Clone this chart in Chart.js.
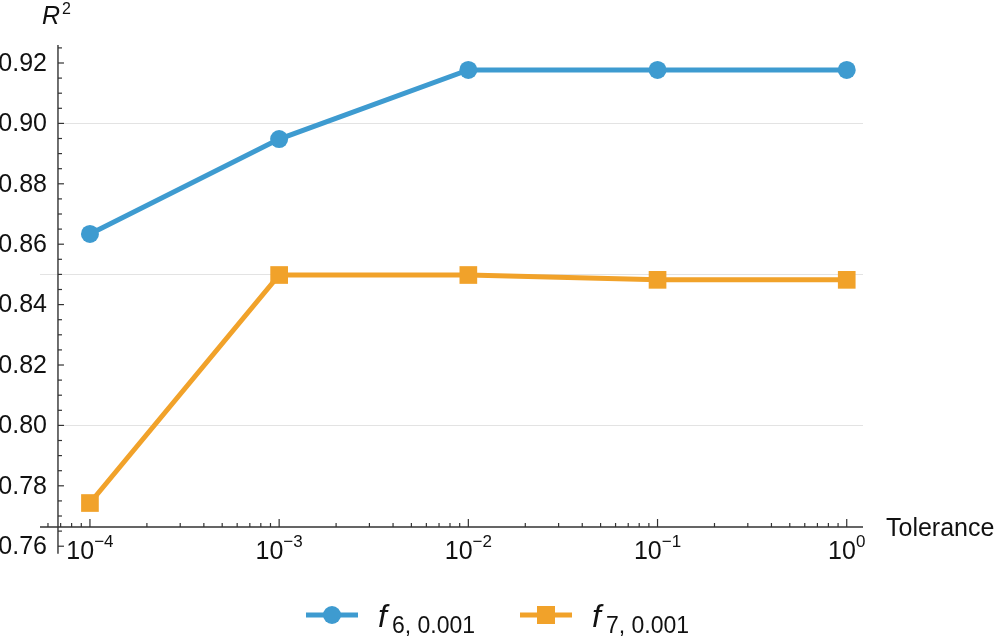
<!DOCTYPE html>
<html lang="en">
<head>
    <meta charset="UTF-8">
    <title>R2 vs Tolerance</title>
    <script src="https://cdn.jsdelivr.net/npm/chart.js"></script>
    <style>
        body {
            margin: 0;
            background-color: #fff;
        }

        #chart {
            display: block;
        }
    </style>
</head>
<body>
    <canvas id="chart" width="997" height="641"></canvas>

    <script>
        // Data
        var tolerances = [1e-4, 1e-3, 1e-2, 1e-1, 1];
        var f6Values = [0.8634, 0.8948, 0.9177, 0.9177, 0.9177];
        var f7Values = [0.7743, 0.8498, 0.8498, 0.8482, 0.8482];
        var seriesSubscripts = ['6, 0.001', '7, 0.001'];
        var seriesColors = ['#3e9bd0', '#f1a22a'];

        var xTickExponents = [-4, -3, -2, -1, 0];
        var yTickValues = [0.76, 0.78, 0.80, 0.82, 0.84, 0.86, 0.88, 0.90, 0.92];
        var yTickLabels = ['0.76', '0.78', '0.80', '0.82', '0.84', '0.86', '0.88', '0.90', '0.92'];
        var gridValues = [0.80, 0.85, 0.90];

        // plot range and where the axes cross
        var xMin = Math.pow(10, -4.264), xMax = Math.pow(10, 0.086);
        var yMin = 0.76636, yMax = 0.92596;
        var axisOriginX = Math.pow(10, -4.169);
        var yAxisBottom = 0.7575;

        var font = '"Liberation Sans", Arial, sans-serif';

        // Mathematica style axes, ticks, grid and labels
        var axesPlugin = {
            id: 'axesPlugin',
            beforeDatasetsDraw: function(chart) {
                var ctx = chart.ctx;
                var xs = chart.scales.x, ys = chart.scales.y, area = chart.chartArea;
                var x0 = xs.getPixelForValue(axisOriginX);
                var y0 = area.bottom;
                ctx.save();

                // grid lines
                ctx.strokeStyle = '#e3e3e3';
                ctx.lineWidth = 1;
                gridValues.forEach(function(v) {
                    var py = Math.round(ys.getPixelForValue(v)) + 0.5;
                    var labelled = yTickValues.some(function(t) { return Math.abs(t - v) < 1e-9; });
                    ctx.beginPath();
                    ctx.moveTo(labelled ? x0 + 5 : area.left, py);
                    ctx.lineTo(area.right, py);
                    ctx.stroke();
                });

                // axis lines
                ctx.strokeStyle = '#333';
                ctx.lineWidth = 1.4;
                ctx.beginPath();
                ctx.moveTo(area.left, y0);
                ctx.lineTo(area.right, y0);
                ctx.moveTo(x0, area.top);
                ctx.lineTo(x0, ys.getPixelForValue(yAxisBottom));
                ctx.stroke();

                // y ticks, minor every 0.005
                ctx.lineWidth = 1.2;
                for (var k = 152; k <= 185; k++) {
                    var py = ys.getPixelForValue(k * 0.005);
                    var len = (k % 4 === 0) ? 6 : 4;
                    ctx.beginPath();
                    ctx.moveTo(x0, py);
                    ctx.lineTo(x0 + len, py);
                    ctx.stroke();
                }

                // x ticks, log minors
                for (var d = -5; d <= 0; d++) {
                    for (var m = 1; m <= 9; m++) {
                        var v = m * Math.pow(10, d);
                        if (v < xMin || v > xMax) continue;
                        var px = xs.getPixelForValue(v);
                        var tl = (m === 1) ? 8 : 4;
                        ctx.beginPath();
                        ctx.moveTo(px, y0);
                        ctx.lineTo(px, y0 - tl);
                        ctx.stroke();
                    }
                }

                // y tick labels
                ctx.fillStyle = '#111';
                ctx.font = '25px ' + font;
                ctx.textAlign = 'right';
                ctx.textBaseline = 'middle';
                yTickValues.forEach(function(v, i) {
                    ctx.fillText(yTickLabels[i], x0 - 11, ys.getPixelForValue(v) + 1);
                });

                // x tick labels as 10^n
                ctx.textAlign = 'left';
                ctx.textBaseline = 'alphabetic';
                xTickExponents.forEach(function(e) {
                    var px = xs.getPixelForValue(Math.pow(10, e));
                    var expText = e < 0 ? '\u2212' + (-e) : String(e);
                    ctx.font = '25px ' + font;
                    var w1 = ctx.measureText('10').width;
                    ctx.font = '17px ' + font;
                    var w2 = ctx.measureText(expText).width;
                    var left = px - (w1 + w2) / 2;
                    ctx.font = '25px ' + font;
                    ctx.fillText('10', left, y0 + 32);
                    ctx.font = '17px ' + font;
                    ctx.fillText(expText, left + w1, y0 + 20);
                });

                // axis labels
                ctx.font = '25px ' + font;
                ctx.fillText('Tolerance', area.right + 23, y0 + 9);
                ctx.font = 'italic 25px ' + font;
                ctx.fillText('R', 42, 24);
                ctx.font = '16px ' + font;
                ctx.fillText('2', 62, 14);

                ctx.restore();
            },
            afterDraw: function(chart) {
                // legend below the plot
                var ctx = chart.ctx;
                var keys = [{ x: 306, marker: 'circle' }, { x: 520, marker: 'rect' }];
                var ly = 615;
                ctx.save();
                keys.forEach(function(key, i) {
                    ctx.strokeStyle = seriesColors[i];
                    ctx.fillStyle = seriesColors[i];
                    ctx.lineWidth = 5;
                    ctx.beginPath();
                    ctx.moveTo(key.x, ly);
                    ctx.lineTo(key.x + 52, ly);
                    ctx.stroke();
                    var cx = key.x + 26;
                    if (key.marker === 'circle') {
                        ctx.beginPath();
                        ctx.arc(cx, ly, 9, 0, Math.PI * 2);
                        ctx.fill();
                    } else {
                        ctx.fillRect(cx - 9, ly - 9, 18, 18);
                    }
                    ctx.fillStyle = '#111';
                    ctx.textAlign = 'left';
                    ctx.font = 'italic 32px ' + font;
                    ctx.fillText('f', key.x + 72, 627);
                    ctx.font = '23px ' + font;
                    ctx.fillText(seriesSubscripts[i], key.x + 86, 633);
                });
                ctx.restore();
            }
        };

        function makePoints(values) {
            return tolerances.map(function(t, i) { return { x: t, y: values[i] }; });
        }

        var ctx = document.getElementById('chart').getContext('2d');
        var myChart = new Chart(ctx, {
            type: 'line',
            data: {
                datasets: [{
                    label: 'f6',
                    data: makePoints(f6Values),
                    borderColor: seriesColors[0],
                    backgroundColor: seriesColors[0],
                    borderWidth: 5,
                    pointStyle: 'circle',
                    pointRadius: 9,
                    pointBorderWidth: 0,
                    tension: 0
                }, {
                    label: 'f7',
                    data: makePoints(f7Values),
                    borderColor: seriesColors[1],
                    backgroundColor: seriesColors[1],
                    borderWidth: 5,
                    pointStyle: 'rect',
                    pointRadius: 12.5,
                    pointBorderWidth: 0,
                    tension: 0
                }]
            },
            options: {
                responsive: false,
                animation: false,
                layout: {
                    padding: { left: 40, right: 134, top: 45, bottom: 114 }
                },
                plugins: {
                    legend: { display: false },
                    tooltip: { enabled: false }
                },
                scales: {
                    x: { type: 'logarithmic', min: xMin, max: xMax, display: false },
                    y: { type: 'linear', min: yMin, max: yMax, display: false }
                }
            },
            plugins: [axesPlugin]
        });
    </script>
</body>
</html>
